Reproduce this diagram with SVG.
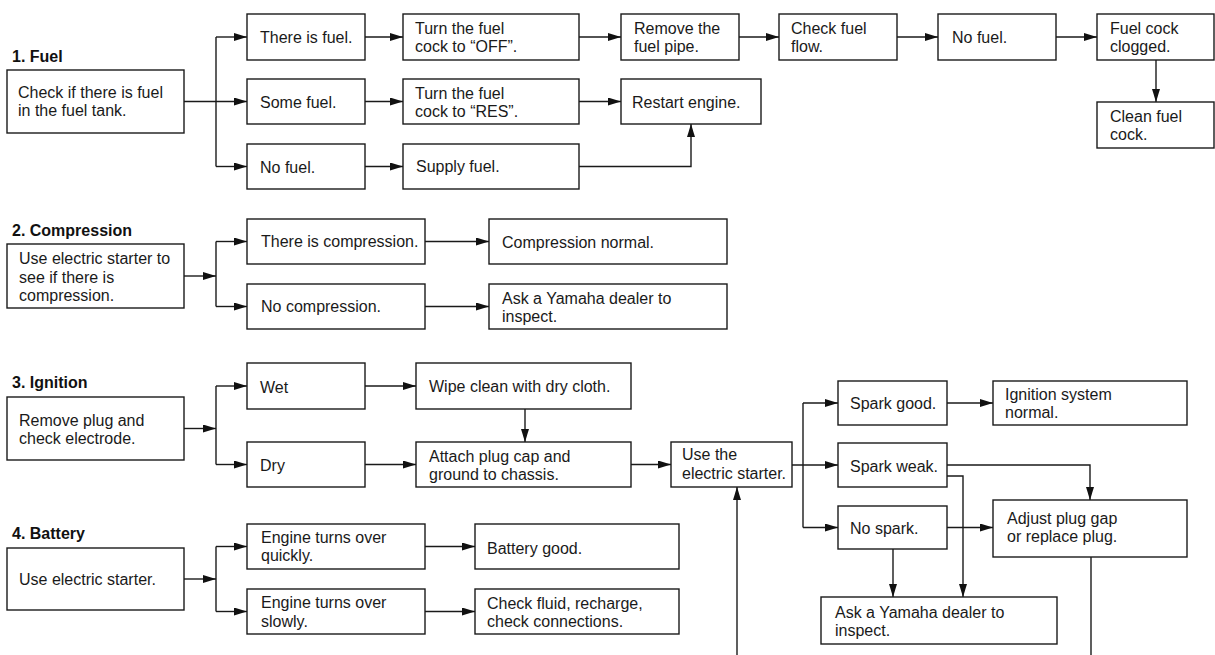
<svg xmlns="http://www.w3.org/2000/svg" width="1215" height="655" viewBox="0 0 1215 655">
<style>
.b{fill:#fff;stroke:#1a1a1a;stroke-width:1.4}
.t{font-family:"Liberation Sans",Arial,Helvetica,sans-serif;font-size:16px;fill:#1a1a1a}
.h{font-family:"Liberation Sans",Arial,Helvetica,sans-serif;font-size:16px;font-weight:bold;fill:#111}
.c{fill:none;stroke:#1a1a1a;stroke-width:1.4}
.a{fill:none;stroke:#1a1a1a;stroke-width:1.4;marker-end:url(#ar)}
</style>
<defs>
<marker id="ar" markerUnits="userSpaceOnUse" markerWidth="14" markerHeight="9" refX="13" refY="4" orient="auto">
<path d="M0,0 L13,4 L0,8 z" fill="#111"/>
</marker>
</defs>
<rect width="1215" height="655" fill="#fff"/>

<g id="titles">
<text class="h" x="12" y="62">1. Fuel</text>
<text class="h" x="12" y="236">2. Compression</text>
<text class="h" x="12" y="388">3. Ignition</text>
<text class="h" x="12" y="539">4. Battery</text>
</g>

<g id="connectors">
<!-- Fuel -->
<path class="a" d="M184,101.5 H247"/>
<path class="c" d="M216,37 V166.5"/>
<path class="a" d="M216,37 H247"/>
<path class="a" d="M216,166.5 H247"/>
<path class="a" d="M365,37 H403"/>
<path class="a" d="M365,101.5 H403"/>
<path class="a" d="M365,166.5 H403"/>
<path class="a" d="M579,37 H621"/>
<path class="a" d="M579,101.5 H621"/>
<path class="a" d="M579,166.5 H691 V124"/>
<path class="a" d="M739,37 H779"/>
<path class="a" d="M897,37 H938"/>
<path class="a" d="M1056,37 H1097"/>
<path class="a" d="M1156,60 V102"/>
<!-- Compression -->
<path class="a" d="M184,276 H216"/>
<path class="c" d="M216,241.5 V306.5"/>
<path class="a" d="M216,241.5 H247"/>
<path class="a" d="M216,306.5 H247"/>
<path class="a" d="M425,241.5 H489"/>
<path class="a" d="M425,306.5 H489"/>
<!-- Ignition -->
<path class="a" d="M184,428.5 H216"/>
<path class="c" d="M216,386 V464.5"/>
<path class="a" d="M216,386 H247"/>
<path class="a" d="M216,464.5 H247"/>
<path class="a" d="M365,386 H416"/>
<path class="a" d="M365,464.5 H416"/>
<path class="a" d="M525,409 V442"/>
<path class="a" d="M631,464.5 H671"/>
<path class="a" d="M792,465 H838"/>
<path class="c" d="M803,403 V527.5"/>
<path class="a" d="M803,403 H838"/>
<path class="a" d="M803,527.5 H838"/>
<path class="a" d="M947,403 H993"/>
<path class="a" d="M947,465 H1090 V500"/>
<path class="a" d="M947,476 H963 V597"/>
<path class="a" d="M947,527.5 H993"/>
<path class="a" d="M893,549 V597"/>
<path class="c" d="M1091,557 V655"/>
<path class="a" d="M737,655 V487"/>
<!-- Battery -->
<path class="a" d="M184,579 H216"/>
<path class="c" d="M216,546.5 V611.5"/>
<path class="a" d="M216,546.5 H247"/>
<path class="a" d="M216,611.5 H247"/>
<path class="a" d="M425,546.5 H475"/>
<path class="a" d="M425,611.5 H475"/>
</g>

<!-- Fuel nodes -->
<g id="fuel-check"><rect class="b" x="7" y="70" width="177" height="63"/><text class="t" x="18" y="97.5">Check if there is fuel</text><text class="t" x="18" y="116">in the fuel tank.</text></g>
<g id="fuel-there"><rect class="b" x="247" y="14" width="118" height="46"/><text class="t" x="260" y="42.5">There is fuel.</text></g>
<g id="fuel-some"><rect class="b" x="247" y="79" width="118" height="45"/><text class="t" x="260" y="108">Some fuel.</text></g>
<g id="fuel-none"><rect class="b" x="247" y="144" width="118" height="45"/><text class="t" x="260" y="173">No fuel.</text></g>
<g id="fuel-off"><rect class="b" x="403" y="14" width="176" height="46"/><text class="t" x="415" y="34">Turn the fuel</text><text class="t" x="415" y="52">cock to “OFF”.</text></g>
<g id="fuel-res"><rect class="b" x="403" y="79" width="176" height="45"/><text class="t" x="415" y="98.5">Turn the fuel</text><text class="t" x="415" y="116.5">cock to “RES”.</text></g>
<g id="fuel-supply"><rect class="b" x="403" y="144" width="176" height="45"/><text class="t" x="416" y="171.5">Supply fuel.</text></g>
<g id="fuel-remove"><rect class="b" x="621" y="14" width="118" height="46"/><text class="t" x="634" y="34">Remove the</text><text class="t" x="634" y="52">fuel pipe.</text></g>
<g id="fuel-restart"><rect class="b" x="621" y="79" width="140" height="45"/><text class="t" x="632" y="108">Restart engine.</text></g>
<g id="fuel-flow"><rect class="b" x="779" y="14" width="118" height="46"/><text class="t" x="791" y="34">Check fuel</text><text class="t" x="791" y="52">flow.</text></g>
<g id="fuel-nofuel"><rect class="b" x="938" y="14" width="118" height="46"/><text class="t" x="952" y="43">No fuel.</text></g>
<g id="fuel-clogged"><rect class="b" x="1097" y="14" width="117" height="46"/><text class="t" x="1110" y="34">Fuel cock</text><text class="t" x="1110" y="52">clogged.</text></g>
<g id="fuel-clean"><rect class="b" x="1097" y="102" width="117" height="46"/><text class="t" x="1110" y="121.5">Clean fuel</text><text class="t" x="1110" y="140">cock.</text></g>

<!-- Compression nodes -->
<g id="comp-check"><rect class="b" x="7" y="244" width="177" height="64"/><text class="t" x="19" y="264">Use electric starter to</text><text class="t" x="19" y="282.5">see if there is</text><text class="t" x="19" y="301">compression.</text></g>
<g id="comp-yes"><rect class="b" x="247" y="219" width="178" height="45"/><text class="t" x="261" y="247">There is compression.</text></g>
<g id="comp-no"><rect class="b" x="247" y="284" width="178" height="45"/><text class="t" x="261" y="312">No compression.</text></g>
<g id="comp-normal"><rect class="b" x="489" y="219" width="238" height="45"/><text class="t" x="502" y="248">Compression normal.</text></g>
<g id="comp-dealer"><rect class="b" x="489" y="284" width="238" height="45"/><text class="t" x="502" y="303.5">Ask a Yamaha dealer to</text><text class="t" x="502" y="322">inspect.</text></g>

<!-- Ignition nodes -->
<g id="ign-check"><rect class="b" x="7" y="397" width="177" height="63"/><text class="t" x="19" y="426">Remove plug and</text><text class="t" x="19" y="444">check electrode.</text></g>
<g id="ign-wet"><rect class="b" x="247" y="363" width="118" height="46"/><text class="t" x="260" y="392.5">Wet</text></g>
<g id="ign-dry"><rect class="b" x="247" y="442" width="118" height="45"/><text class="t" x="260" y="470.5">Dry</text></g>
<g id="ign-wipe"><rect class="b" x="416" y="363" width="215" height="46"/><text class="t" x="429" y="391.5">Wipe clean with dry cloth.</text></g>
<g id="ign-attach"><rect class="b" x="416" y="442" width="215" height="45"/><text class="t" x="429" y="461.5">Attach plug cap and</text><text class="t" x="429" y="480">ground to chassis.</text></g>
<g id="ign-starter"><rect class="b" x="671" y="442" width="121" height="45"/><text class="t" x="682" y="460">Use the</text><text class="t" x="682" y="478.5">electric starter.</text></g>
<g id="ign-good"><rect class="b" x="838" y="381" width="109" height="44"/><text class="t" x="850" y="409">Spark good.</text></g>
<g id="ign-normal"><rect class="b" x="993" y="381" width="194" height="44"/><text class="t" x="1005" y="399.5">Ignition system</text><text class="t" x="1005" y="418">normal.</text></g>
<g id="ign-weak"><rect class="b" x="838" y="443" width="109" height="44"/><text class="t" x="850" y="471.5">Spark weak.</text></g>
<g id="ign-nospark"><rect class="b" x="838" y="506" width="109" height="43"/><text class="t" x="850" y="533.5">No spark.</text></g>
<g id="ign-adjust"><rect class="b" x="993" y="500" width="194" height="57"/><text class="t" x="1007" y="523.5">Adjust plug gap</text><text class="t" x="1007" y="541.5">or replace plug.</text></g>
<g id="ign-dealer"><rect class="b" x="821" y="597" width="236" height="47"/><text class="t" x="835" y="618">Ask a Yamaha dealer to</text><text class="t" x="835" y="636">inspect.</text></g>

<!-- Battery nodes -->
<g id="bat-check"><rect class="b" x="7" y="548" width="177" height="62"/><text class="t" x="19" y="585">Use electric starter.</text></g>
<g id="bat-quick"><rect class="b" x="247" y="524" width="178" height="45"/><text class="t" x="261" y="543">Engine turns over</text><text class="t" x="261" y="561">quickly.</text></g>
<g id="bat-slow"><rect class="b" x="247" y="589" width="178" height="45"/><text class="t" x="261" y="608">Engine turns over</text><text class="t" x="261" y="626.5">slowly.</text></g>
<g id="bat-good"><rect class="b" x="475" y="524" width="204" height="45"/><text class="t" x="487" y="554">Battery good.</text></g>
<g id="bat-fluid"><rect class="b" x="475" y="589" width="204" height="45"/><text class="t" x="487" y="608.5">Check fluid, recharge,</text><text class="t" x="487" y="627">check connections.</text></g>
</svg>
